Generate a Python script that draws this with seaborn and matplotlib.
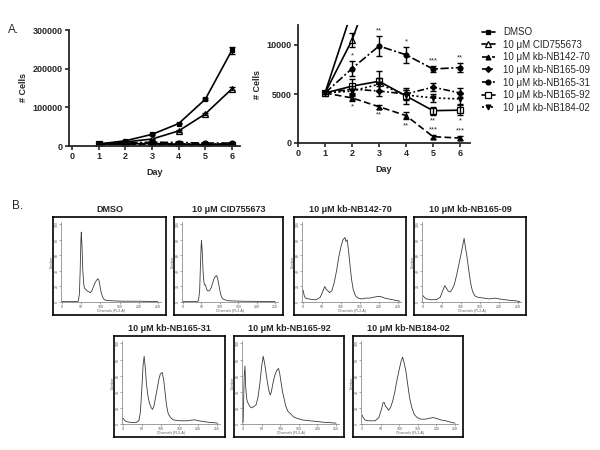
import matplotlib
matplotlib.use("Agg")
import matplotlib.pyplot as plt
import numpy as np
import pandas as pd
import seaborn as sns

# ---------------- data: panel A (cell counts) ----------------
days = [1, 2, 3, 4, 5, 6]
names = ["DMSO", "10 μM CID755673", "10 μM kb-NB142-70", "10 μM kb-NB165-09",
         "10 μM kb-NB165-31", "10 μM kb-NB165-92", "10 μM kb-NB184-02"]

cells_dmso = [5100, 13500, 30000, 58000, 121000, 248000]
err_dmso = [150, 600, 1500, 2000, 3000, 9000]
cells_cid = [5100, 10500, 18000, 39000, 83000, 148000]
err_cid = [150, 700, 1200, 2500, 3000, 4000]
cells_142_70 = [5100, 4600, 3700, 2800, 650, 500]
err_142_70 = [150, 300, 200, 400, 200, 200]
cells_165_09 = [5100, 5500, 5300, 5000, 5700, 5100]
err_165_09 = [150, 500, 500, 400, 400, 500]
cells_165_31 = [5100, 7600, 9900, 9000, 7550, 7700]
err_165_31 = [150, 800, 1000, 800, 300, 500]
cells_165_92 = [5100, 5800, 6300, 4800, 3300, 3350]
err_165_92 = [150, 700, 1000, 800, 400, 500]
cells_184_02 = [5100, 5300, 6000, 4900, 4600, 4500]
err_184_02 = [150, 500, 600, 500, 400, 500]

stars_142_70 = ["", "*", "**", "**", "***", "***"]
side_142_70 = [-1, -1, -1, -1, 1, 1]
stars_165_31 = ["", "*", "**", "*", "***", "**"]
side_165_31 = [1, 1, 1, 1, 1, 1]
stars_165_92 = ["", "", "", "", "**", "*"]
side_165_92 = [-1, -1, -1, -1, -1, -1]

# ---------------- data: panel B (DNA histograms) ----------------
hist_titles = ["DMSO", "10 μM CID755673", "10 μM kb-NB142-70", "10 μM kb-NB165-09",
               "10 μM kb-NB165-31", "10 μM kb-NB165-92", "10 μM kb-NB184-02"]

ch_dmso = [0, 20, 38, 42, 45, 47, 49, 50, 52, 54, 56, 58, 62, 66, 70, 74, 78, 82, 86, 90, 93, 96,
           99, 102, 106, 110, 116, 130, 160, 200, 250]
cnt_dmso = [0.5, 0.5, 0.5, 1, 10, 40, 80, 90, 70, 40, 25, 18, 16, 14, 13, 12, 15, 20, 25, 28, 30, 28,
            20, 12, 6, 3, 2, 1.5, 1, 1, 0.5]

ch_cid = [0, 38, 42, 45, 47, 49, 50, 52, 54, 56, 58, 61, 64, 68, 72, 76, 80, 84, 88, 91, 94, 98,
          102, 106, 112, 125, 160, 250]
cnt_cid = [0.5, 0.5, 2, 15, 45, 72, 79, 65, 42, 28, 22, 22, 16, 14, 15, 18, 24, 30, 33, 34, 30, 20,
           10, 5, 3, 1.5, 1, 0.5]

ch_142_70 = [0, 3, 6, 15, 25, 35, 45, 52, 57, 60, 64, 70, 76, 82, 88, 94, 100, 105, 110, 113, 116,
             120, 124, 128, 132, 138, 145, 155, 165, 175, 185, 195, 205, 215, 225, 235, 245, 255]
cnt_142_70 = [15, 8, 5, 4, 3, 3, 6, 14, 20, 17, 15, 12, 15, 25, 40, 58, 72, 80, 83, 78, 80,
              65, 45, 28, 16, 8, 5, 4, 5, 5, 6, 7, 7, 5, 4, 3, 2, 1]

ch_165_09 = [0, 3, 8, 20, 35, 45, 52, 57, 61, 66, 71, 76, 82, 88, 94, 100, 104, 108, 111, 115, 120,
             125, 130, 136, 145, 160, 175, 190, 200, 215, 230, 245, 255]
cnt_165_09 = [8, 6, 4, 3, 3, 6, 15, 21, 18, 14, 13, 16, 22, 34, 48, 62, 72, 82, 72, 60, 42,
              25, 14, 8, 6, 5, 4, 5, 4, 3, 2, 1.5, 0.5]

ch_165_31 = [0, 3, 8, 20, 35, 42, 46, 50, 53, 56, 59, 62, 66, 70, 74, 78, 82, 86, 90, 95, 99, 104,
             108, 112, 116, 120, 126, 134, 150, 170, 185, 192, 200, 215, 230, 245, 252]
cnt_165_31 = [7, 5, 3, 2, 2, 4, 15, 45, 72, 84, 70, 50, 35, 26, 21, 18, 22, 32, 42, 55, 62, 64,
              55, 38, 22, 13, 8, 5, 4, 4, 5, 5, 4, 3, 2, 1.5, 1]

ch_165_92 = [0, 3, 5, 7, 10, 14, 18, 22, 26, 30, 35, 40, 45, 50, 54, 58, 62, 66, 70, 73, 76, 80,
             85, 90, 95, 98, 102, 106, 110, 115, 120, 127, 135, 145, 160, 180, 200, 220, 240, 250]
cnt_165_92 = [2, 60, 72, 45, 30, 25, 22, 20, 21, 22, 24, 33, 50, 72, 84, 75, 62, 50, 40, 36, 40, 50,
              60, 66, 69, 64, 52, 40, 32, 22, 16, 13, 9, 7, 5, 4, 3, 2, 1.5, 1]

ch_184_02 = [0, 3, 8, 15, 25, 35, 45, 52, 56, 59, 63, 67, 71, 76, 82, 88, 94, 100, 105, 109, 113,
             118, 123, 128, 134, 140, 148, 158, 170, 180, 190, 200, 212, 225, 240, 250]
cnt_184_02 = [11, 8, 5, 4, 4, 4, 8, 18, 26, 27, 22, 20, 17, 20, 28, 40, 55, 68, 78, 83, 76,
              65, 48, 32, 20, 12, 8, 6, 6, 7, 8, 7, 5, 4, 2, 1]

# ---------------- style ----------------
sns.set_theme(style="ticks")
plt.rcParams["font.family"] = ["Liberation Sans", "DejaVu Sans"]
plt.rcParams["axes.linewidth"] = 1.3

W, H = 600, 450
fig = plt.figure(figsize=(6, 4.5), dpi=100)
fig.patch.set_facecolor("white")


def px_axes(x0, y0, x1, y1):
    return fig.add_axes([x0 / W, 1 - y1 / H, (x1 - x0) / W, (y1 - y0) / H])


series = [
    (names[0], cells_dmso, err_dmso, "s", 3.2, "black", None),
    (names[1], cells_cid, err_cid, "^", 5, "white", None),
    (names[2], cells_142_70, err_142_70, "^", 3.5, "black", (4, 2)),
    (names[3], cells_165_09, err_165_09, "D", 3, "black", (4, 1.5, 1, 1.5)),
    (names[4], cells_165_31, err_165_31, "o", 3.5, "black", (5, 1.5, 1.2, 1.5)),
    (names[5], cells_165_92, err_165_92, "s", 5, "white", None),
    (names[6], cells_184_02, err_184_02, "v", 3.5, "black", (1.2, 1.5)),
]

ax1 = px_axes(69, 30, 240, 146)
ax2 = px_axes(298, 25.4, 470, 143)

legend_handles = []
for ax in (ax1, ax2):
    for name, vals, err, mk, ms, mfc, dash in series:
        sns.lineplot(x=days, y=vals, ax=ax, color="black", lw=1.2, marker=mk, ms=ms,
                     mfc=mfc, mec="black", mew=0.9, legend=False)
        line = ax.lines[-1]
        if dash is not None:
            line.set_dashes(dash)
        if ax is ax2:
            line.set_label(name)
            legend_handles.append(line)
        ax.errorbar(days, vals, yerr=err, fmt="none", ecolor="black", elinewidth=1.0,
                    capsize=2, capthick=1.0)
    if ax.get_legend() is not None:
        ax.get_legend().remove()
    sns.despine(ax=ax)
    ax.tick_params(axis="both", labelsize=6.5, width=1.2, length=3, pad=1.5)
    ax.set_xlabel("Day", fontsize=6.5, fontweight="bold", labelpad=5)
    ax.set_ylabel("# Cells", fontsize=6.5, fontweight="bold", labelpad=3)

ax1.set_xlim(-0.11, 6.3)
ax1.set_ylim(0, 300000)
ax1.set_xticks(range(0, 7))
ax1.set_yticks([0, 100000, 200000, 300000])
ax1.set_yticklabels(["0", "100000", "200000", "300000"], fontweight="bold")
ax1.set_xticklabels([str(i) for i in range(7)], fontweight="bold")

ax2.set_xlim(0, 6.37)
ax2.set_ylim(0, 12000)
ax2.set_xticks(range(0, 7))
ax2.set_yticks([0, 5000, 10000])
ax2.set_yticklabels(["0", "5000", "10000"], fontweight="bold")
ax2.set_xticklabels([str(i) for i in range(7)], fontweight="bold")

# significance stars on the zoomed plot
for vals, err, stars, side in [(cells_142_70, err_142_70, stars_142_70, side_142_70),
                               (cells_165_31, err_165_31, stars_165_31, side_165_31),
                               (cells_165_92, err_165_92, stars_165_92, side_165_92)]:
    for d, v, e, s, sd in zip(days, vals, err, stars, side):
        if not s:
            continue
        if sd > 0:
            ax2.text(d, v + e + 150, s, ha="center", va="bottom", fontsize=5.5)
        else:
            ax2.text(d, v - e - 250, s, ha="center", va="top", fontsize=5.5)

fig.legend(legend_handles, names, loc="upper left", bbox_to_anchor=(482 / W, 1 - 27 / H),
           frameon=False, fontsize=7, handlelength=1.3, handletextpad=0.9,
           labelspacing=0.27, borderaxespad=0, borderpad=0, numpoints=1)

fig.text(8 / W, 1 - 30 / H, "A.", fontsize=8.5, va="center", ha="left")
fig.text(12 / W, 1 - 206 / H, "B.", fontsize=8.5, va="center", ha="left")

# ---------------- panel B ----------------
boxes = [(53, 217, 166, 315), (174, 217, 283, 315), (294, 217, 406, 315), (414, 217, 526, 315),
         (114, 336, 225, 437), (234, 336, 344, 437), (353, 336, 463, 437)]
hist_data = [(ch_dmso, cnt_dmso), (ch_cid, cnt_cid), (ch_142_70, cnt_142_70),
             (ch_165_09, cnt_165_09), (ch_165_31, cnt_165_31), (ch_165_92, cnt_165_92),
             (ch_184_02, cnt_184_02)]

for (x0, y0, x1, y1), title, (ch, cnt) in zip(boxes, hist_titles, hist_data):
    box = px_axes(x0, y0, x1, y1)
    box.set_xticks([])
    box.set_yticks([])
    for sp in box.spines.values():
        sp.set_visible(True)
        sp.set_linewidth(1.2)
        sp.set_color("black")
    box.set_title(title, fontsize=6.5, fontweight="bold", pad=3.5)

    inner = px_axes(x0 + 8, y0 + 5, x1 - 5, y1 - 13)
    inner.patch.set_alpha(0)
    sns.lineplot(x=ch, y=cnt, ax=inner, color="#3a3a3a", lw=0.6, legend=False)
    inner.set_xlim(-3, 258)
    inner.set_ylim(0, 103)
    inner.set_xticks([0, 50, 100, 150, 200, 250])
    inner.set_yticks([0, 20, 40, 60, 80, 100])
    inner.tick_params(axis="both", labelsize=2.5, length=1.2, width=0.4, pad=0.6,
                      color="#666666", labelcolor="#555555")
    plt.setp(inner.get_yticklabels(), rotation=90, va="center")
    for s in ("top", "right"):
        inner.spines[s].set_visible(False)
    for s in ("left", "bottom"):
        inner.spines[s].set_linewidth(0.5)
        inner.spines[s].set_color("#777777")
    inner.set_xlabel("Channels (FL2-A)", fontsize=2.5, labelpad=0.3, color="#555555")
    inner.set_ylabel("Number", fontsize=2.5, labelpad=0.3, color="#555555")

fig.savefig("out.png", dpi=100, facecolor="white")
